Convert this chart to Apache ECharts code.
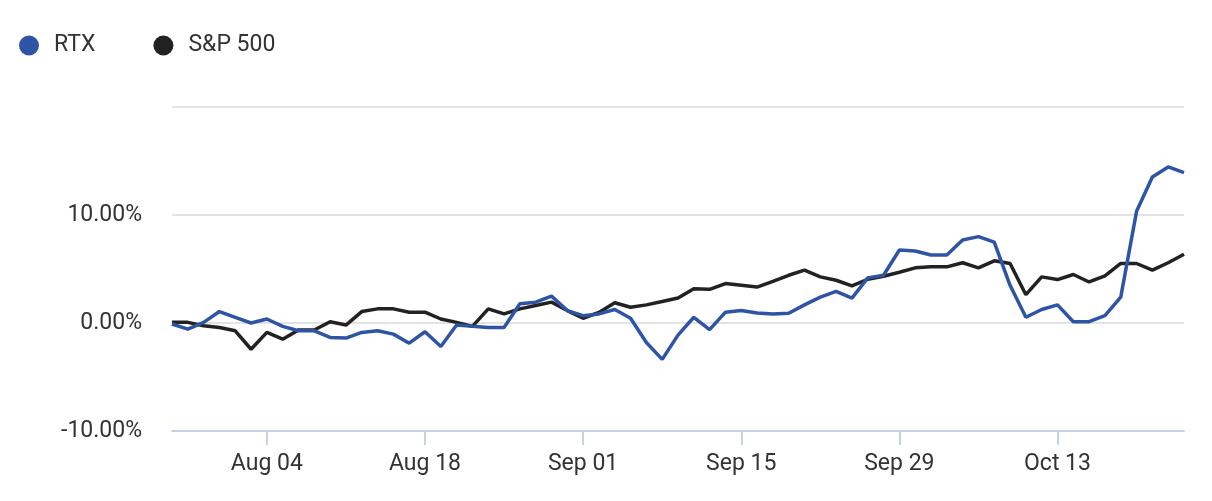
<!DOCTYPE html>
<html><head><meta charset="utf-8">
<script src="https://cdn.jsdelivr.net/npm/echarts@6/dist/echarts.min.js"></script>
<style>html,body{margin:0;padding:0;background:#fff}#c{width:1212px;height:501px}</style>
</head><body><div id="c"></div>
<script>
// trading days starting Jul 25
const labelDates = ['Aug 04','Aug 18','Sep 01','Sep 15','Sep 29','Oct 13'];
const rtx = [-0.09,-0.56,0.06,1.06,0.53,0,0.37,-0.31,-0.72,-0.72,-1.34,-1.4,-0.87,-0.72,-1.03,-1.87,-0.81,-2.18,-0.19,-0.31,-0.41,-0.41,1.78,1.93,2.49,1.15,
  0.68,0.84,1.25,0.44,-1.81,-3.37,-1.12,0.53,-0.62,1.0,1.15,0.93,0.84,0.9,1.68,2.4,2.93,2.31,4.18,4.42,6.76,
  6.67,6.29,6.29,7.69,8.0,7.48,3.49,0.53,1.25,1.68,0.12,0.12,0.68,2.4,10.34,13.52,14.45,13.92];
const spx = [0.06,0.06,-0.26,-0.41,-0.72,-2.43,-0.87,-1.5,-0.65,-0.65,0.12,-0.19,1.06,1.31,1.31,1.0,1.0,0.37,0.06,-0.31,1.31,0.84,1.31,1.62,1.93,1.15,
  0.44,0.98,1.87,1.46,1.68,1.99,2.31,3.18,3.12,3.65,3.49,3.33,3.86,4.42,4.89,4.27,3.96,3.43,4.05,4.33,4.7,
  5.11,5.2,5.2,5.58,5.11,5.76,5.51,2.62,4.27,4.02,4.49,3.8,4.36,5.51,5.51,4.89,5.58,6.36];
const months=['Jan','Feb','Mar','Apr','May','Jun','Jul','Aug','Sep','Oct','Nov','Dec'];
const dates=[];
let d=new Date(Date.UTC(2025,6,25));
while(dates.length<rtx.length){const w=d.getUTCDay();if(w!==0&&w!==6){dates.push(months[d.getUTCMonth()]+' '+String(d.getUTCDate()).padStart(2,'0'));}d=new Date(d.getTime()+86400000);}
const show=(i,v)=>labelDates.includes(v);
const chart=echarts.init(document.getElementById('c'));
chart.setOption({
  animation:false,
  legend:{left:14,top:29,itemWidth:20,itemHeight:20,itemGap:58,icon:'circle',
    textStyle:{fontSize:23,color:'#333',fontFamily:'Roboto',padding:[0,0,0,10]},
    data:[{name:'RTX'},{name:'S&P 500'}]},
  grid:{left:172,right:28,top:107,bottom:70},
  xAxis:{type:'category',data:dates,boundaryGap:false,
    axisLine:{onZero:false,lineStyle:{color:'#c8d0e6',width:2}},
    axisTick:{interval:show,length:14,lineStyle:{color:'#c8d0e6',width:2}},
    axisLabel:{interval:show,fontSize:23,color:'#333',margin:22,fontFamily:'Roboto'},
    splitLine:{show:false}},
  yAxis:{type:'value',min:-10,max:20,interval:10,
    axisLine:{show:false},axisTick:{show:false},
    axisLabel:{fontSize:23,color:'#333',margin:30,fontFamily:'Roboto',
      formatter:v=>v>=20?'':v.toFixed(2)+'%'},
    splitLine:{lineStyle:{color:'#e3e3e3',width:2}}},
  series:[
    {name:'RTX',type:'line',data:rtx,showSymbol:false,lineStyle:{color:'#2E55A5',width:3.5},itemStyle:{color:'#2E55A5'},z:3},
    {name:'S&P 500',type:'line',data:spx,showSymbol:false,lineStyle:{color:'#222',width:3.5},itemStyle:{color:'#222'},z:2}
  ]
});
</script></body></html>
